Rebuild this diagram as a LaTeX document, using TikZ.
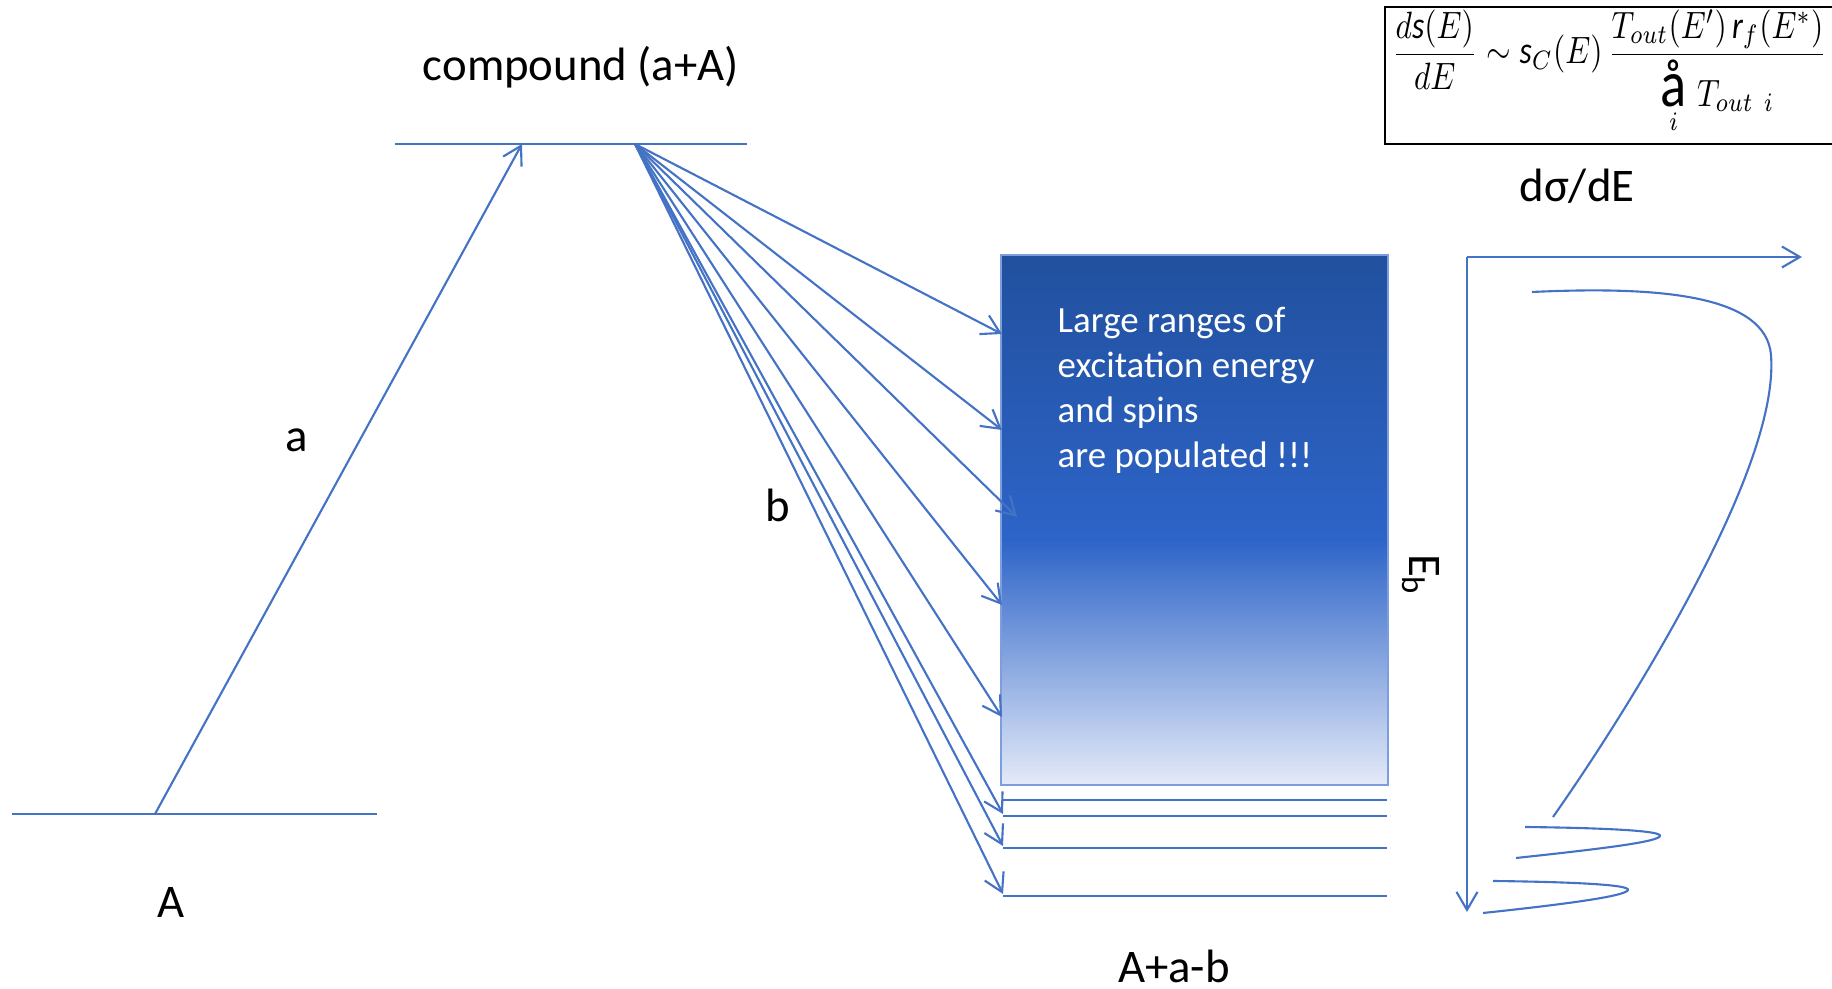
\documentclass[tikz,border=0pt]{standalone}
\usepackage{amsmath,graphicx}
\usepackage{fontspec}
\setmainfont{Carlito}
\definecolor{lvlblue}{RGB}{68,114,196}
\definecolor{boxtop}{RGB}{33,80,158}
\definecolor{boxmid}{RGB}{45,100,200}
\definecolor{boxlow}{RGB}{228,234,248}
\definecolor{boxedge}{RGB}{125,158,220}
\usetikzlibrary{arrows.meta,positioning}

\begin{document}
\begin{tikzpicture}[x=0.01cm,y=-0.01cm,
  level/.style={lvlblue,line width=0.65pt},
  trans/.style={lvlblue,line width=0.6pt,-{Straight Barb[length=0.18cm,width=0.21cm]}},
  spec/.style={lvlblue,line width=0.6pt},
  lbl/.style={font=\fontsize{13.3}{16}\selectfont,inner sep=0pt},
  poptext/.style={font=\fontsize{10.5}{12.8}\selectfont,text=white,align=left,inner sep=0pt},
  eqframe/.style={draw=black,line width=0.6pt,minimum width=4.5cm,minimum height=1.37cm,inner sep=0pt}
]
  \useasboundingbox (0,0) rectangle (1832,989);
  % ground state A and compound level
  \coordinate (gsL) at (12,814);  \coordinate (gsR) at (377,814);
  \coordinate (cnL) at (395,144); \coordinate (cnR) at (747,144);
  \draw[level] (gsL) -- (gsR);
  \draw[level] (cnL) -- (cnR);
  \coordinate (ain) at (155,814); \coordinate (atop) at (522,144);
  \draw[trans] (ain) -- (atop);
  \node[lbl] (lA) at (171,903) {A};
  \node[lbl] (la) at (297,440) {a};
  \node[lbl] (lcomp) at (581,67) {compound (a+A)};
  \node[lbl] (lb) at (778,505) {b};
  % populated region of A+a-b
  \node[minimum width=3.85cm,minimum height=5.28cm,inner sep=0pt] (pop) at (1194.5,520) {};
  \shade[top color=boxtop,bottom color=boxmid] (pop.north west) rectangle (1387,540);
  \shade[top color=boxmid,bottom color=boxlow] (1002,540) rectangle (pop.south east);
  \draw[boxedge,line width=0.5pt] (pop.north west) rectangle (pop.south east);
  \node[poptext,anchor=north west] (ptxt) at (1057,306) {Large ranges of\\excitation energy\\and spins\\are populated !!!};
  % discrete levels below
  \foreach \ly [count=\k] in {800,816,848,896} {
    \coordinate (lvL\k) at (1003,\ly); \coordinate (lvR\k) at (1387,\ly);
    \draw[level] (lvL\k) -- (lvR\k);
  }
  \node[lbl] (lfin) at (1174,966) {A+a-b};
  % decays b from the compound level
  \coordinate (fan) at (635,144);
  \foreach \tx/\ty [count=\k] in {1002/334,1002/430,1017/517,1002/605,1002/717,1003/814,1003/846,1003/894} {
    \coordinate (tip\k) at (\tx,\ty);
    \draw[trans] (fan) -- (tip\k);
  }
  % spectrum
  \coordinate (org) at (1467,257); \coordinate (xend) at (1802,257); \coordinate (yend) at (1467,912);
  \draw[trans] (org) -- (xend);
  \draw[trans] (org) -- (yend);
  \node[lbl,rotate=-90] (lEb) at (1421,575) {E\textsubscript{b}};
  \draw[spec] (1532,292) .. controls (1660,286) and (1766,295) .. (1771,355)
    .. controls (1776,420) and (1730,520) .. (1690,595)
    .. controls (1650,670) and (1600,750) .. (1553,817);
  \draw[spec] (1525,827) .. controls (1610,828) and (1662,831) .. (1660,836) .. controls (1658,842) and (1600,849) .. (1516,858);
  \draw[spec] (1493,881) .. controls (1578,882) and (1630,885) .. (1628,890) .. controls (1626,896) and (1568,904) .. (1483,913);
  \node[lbl] (ldsig) at (1577,186) {dσ/dE};
  % formula
  \node[eqframe] (eqbox) at (1610,75.5) {};
  \node[inner sep=0pt] (eq) at (1609.5,72) {\resizebox*{4.35cm}{1.25cm}{$\displaystyle
    \frac{d\text{\itshape s}(E)}{dE}\sim\text{\itshape s}_C(E)\,
    \frac{T_{out}(E')\,\text{\itshape r}_f(E^{*})}{\mathop{\text{\LARGE å}}\limits_{i}\,T_{out\;\,i}}$}};
\end{tikzpicture}
\end{document}
